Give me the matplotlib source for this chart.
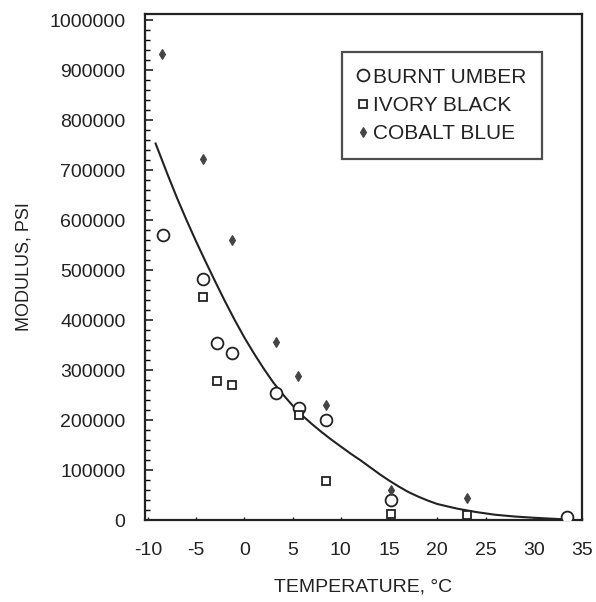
import matplotlib
matplotlib.use("Agg")
import matplotlib.pyplot as plt
from matplotlib.ticker import MultipleLocator, FuncFormatter

plt.rcParams["font.family"] = ["Liberation Sans", "DejaVu Sans"]

# burnt umber (open circles)
umber_t = [-8.4, -4.3, -2.8, -1.3, 3.3, 5.7, 8.5, 15.2, 33.4]
umber_e = [570000, 482000, 355000, 335000, 255000, 225000, 200000, 40000, 7000]

# ivory black (open squares)
ivory_t = [-4.3, -2.8, -1.3, 5.7, 8.5, 15.2, 23.1]
ivory_e = [447000, 279000, 270000, 210000, 78000, 13000, 10000]

# cobalt blue (small filled diamonds)
cobalt_t = [-8.5, -4.3, -1.3, 3.3, 5.6, 8.5, 15.2, 23.1]
cobalt_e = [933000, 722000, 560000, 357000, 288000, 230000, 60000, 45000]

# fitted curve
curve_t = [-9.2, -8, -7, -6, -5, -4, -3, -2, -1, 0, 1, 2, 3, 4, 5, 6, 7, 8,
           9, 10, 11, 12, 13, 14, 15, 16, 17, 18, 19, 20, 22, 24, 26, 28, 30, 33]
curve_e = [753000, 693000, 645000, 600000, 557000, 516000, 476000, 437000,
           400000, 365000, 333000, 303000, 275000, 251000, 229000, 209000,
           192000, 176000, 161000, 147000, 133000, 120000, 106000, 92000,
           79000, 67000, 56000, 47000, 39000, 32000, 23000, 16000, 10500,
           7000, 4500, 1500]

ink = "#222222"

fig = plt.figure(figsize=(5.96, 6.02), dpi=100)
ax = fig.add_axes([0.2433, 0.1362, 0.7332, 0.8405])

ax.plot(curve_t, curve_e, color=ink, lw=1.5, zorder=2)
ax.plot(umber_t, umber_e, ls="none", marker="o", ms=8.5, mfc="white",
        mec=ink, mew=1.3, label="BURNT UMBER", zorder=3)
ax.plot(ivory_t, ivory_e, ls="none", marker="s", ms=6, mfc="white",
        mec=ink, mew=1.3, label="IVORY BLACK", zorder=3)
ax.plot(cobalt_t, cobalt_e, ls="none", marker="d", ms=5, mfc="#444444",
        mec="#444444", mew=0.8, label="COBALT BLUE", zorder=4)

ax.set_xlim(-10.3, 35)
ax.set_ylim(0, 1012000)
ax.xaxis.set_major_locator(MultipleLocator(5))
ax.yaxis.set_major_locator(MultipleLocator(100000))
ax.yaxis.set_minor_locator(MultipleLocator(20000))
ax.xaxis.set_major_formatter(FuncFormatter(lambda v, p: "%d" % round(v)))
ax.yaxis.set_major_formatter(FuncFormatter(lambda v, p: "%d" % round(v)))
ax.tick_params(axis="y", which="major", direction="in", length=6, width=1.2,
               labelsize=14, colors=ink, pad=14)
ax.tick_params(axis="y", which="minor", direction="in", length=3.5, width=1.0)
ax.tick_params(axis="x", which="major", direction="in", length=2.5, width=1.0,
               labelsize=14, colors=ink, pad=16)

for side in ax.spines.values():
    side.set_linewidth(1.6)
    side.set_color(ink)

ax.set_xlabel("TEMPERATURE, °C", fontsize=14, color=ink, labelpad=14)
ax.set_ylabel("MODULUS, PSI", fontsize=13, color=ink, labelpad=12)

leg = ax.legend(loc="upper left", bbox_to_anchor=(0.451, 0.925), fontsize=15,
                frameon=True, fancybox=False, handlelength=0.5,
                handletextpad=0.25, borderpad=0.75, labelspacing=0.45,
                borderaxespad=0)
leg.get_frame().set_edgecolor(ink)
leg.get_frame().set_linewidth(1.6)
for t in leg.get_texts():
    t.set_color(ink)

fig.savefig("out.png", dpi=100)
